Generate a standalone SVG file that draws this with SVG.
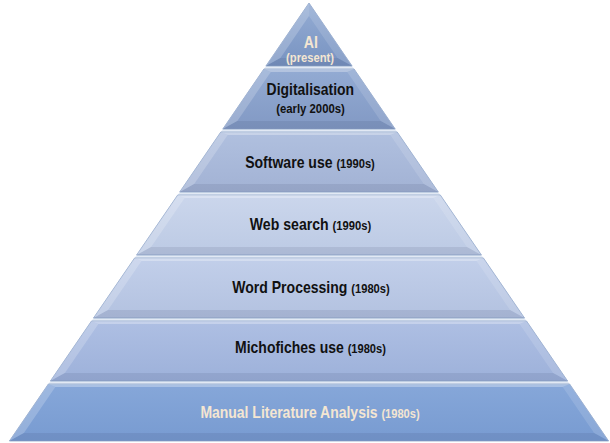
<svg xmlns="http://www.w3.org/2000/svg" width="610" height="443" viewBox="0 0 610 443">
  <defs>
    <style>
      .t { font-family: "Liberation Sans", Arial, sans-serif; font-weight: bold; font-size: 17px; text-anchor: middle; }
      .s { font-size: 13.5px; }
      .k { fill: #111111; }
      .c { fill: #f4e6d2; }
      .base { stroke: #8ea4c9; stroke-width: 0.8; }
      .fl { fill: #ffffff; opacity: 0.2; }
      .fr { fill: #ffffff; opacity: 0.13; }
      .ft { fill: #ffffff; opacity: 0.3; }
      .fb { fill: #2a3a5a; opacity: 0.11; }
    </style>
    <linearGradient id="gAI" x1="0" y1="0" x2="0" y2="1">
      <stop offset="0" stop-color="#95add4"/>
      <stop offset="1" stop-color="#7893c1"/>
    </linearGradient>
    <linearGradient id="gDig" x1="0" y1="0" x2="0" y2="1">
      <stop offset="0" stop-color="#93abd3"/>
      <stop offset="1" stop-color="#8299c4"/>
    </linearGradient>
    <linearGradient id="gSoft" x1="0" y1="0" x2="0" y2="1">
      <stop offset="0" stop-color="#b0c0df"/>
      <stop offset="1" stop-color="#a2b2d4"/>
    </linearGradient>
    <linearGradient id="gWeb" x1="0" y1="0" x2="0" y2="1">
      <stop offset="0" stop-color="#cbd6ec"/>
      <stop offset="1" stop-color="#bccae4"/>
    </linearGradient>
    <linearGradient id="gWord" x1="0" y1="0" x2="0" y2="1">
      <stop offset="0" stop-color="#c2cfea"/>
      <stop offset="1" stop-color="#b3c2e0"/>
    </linearGradient>
    <linearGradient id="gMic" x1="0" y1="0" x2="0" y2="1">
      <stop offset="0" stop-color="#aebfe3"/>
      <stop offset="1" stop-color="#9db1da"/>
    </linearGradient>
    <linearGradient id="gMan" x1="0" y1="0" x2="0" y2="1">
      <stop offset="0" stop-color="#86a7d9"/>
      <stop offset="1" stop-color="#789bd1"/>
    </linearGradient>
  </defs>

  <!-- light backing showing through the separators -->
  <polygon points="309,3 9.4,441 608.6,441" fill="#e2e9f4"/>

  <g id="tier-ai">
    <polygon class="base" points="309,3 352.1,66 265.9,66" fill="url(#gAI)"/>
    <polygon class="fl" points="309,3 309,16 280.4,58 265.9,66"/>
    <polygon class="fr" points="309,3 352.1,66 337.6,58 309,16"/>
    <polygon class="fb" points="265.9,66 280.4,58 337.6,58 352.1,66"/>
    <text class="t c" transform="translate(310.8,48) scale(0.83,1)" font-size="20.5px">AI</text>
    <text class="t c s" transform="translate(310,62) scale(0.83,1)">(present)</text>
  </g>

  <g id="tier-digitalisation">
    <polygon class="base" points="263.9,69 354.1,69 395.2,129 222.8,129" fill="url(#gDig)"/>
    <polygon class="ft" points="263.9,69 354.1,69 347.2,72 270.8,72"/>
    <polygon class="fl" points="263.9,69 270.8,72 237.3,121 222.8,129"/>
    <polygon class="fr" points="354.1,69 395.2,129 380.7,121 347.2,72"/>
    <polygon class="fb" points="222.8,129 237.3,121 380.7,121 395.2,129"/>
    <text class="t k" transform="translate(310.3,95) scale(0.82,1)">Digitalisation</text>
    <text class="t k s" transform="translate(310.5,113) scale(0.84,1)">(early 2000s)</text>
  </g>

  <g id="tier-software">
    <polygon class="base" points="220.8,132 397.2,132 438.3,192 179.7,192" fill="url(#gSoft)"/>
    <polygon class="ft" points="220.8,132 397.2,132 390.3,135 227.7,135"/>
    <polygon class="fl" points="220.8,132 227.7,135 194.2,184 179.7,192"/>
    <polygon class="fr" points="397.2,132 438.3,192 423.8,184 390.3,135"/>
    <polygon class="fb" points="179.7,192 194.2,184 423.8,184 438.3,192"/>
    <text class="t k" transform="translate(310,168.3) scale(0.826,1)">Software use <tspan class="s">(1990s)</tspan></text>
  </g>

  <g id="tier-web-search">
    <polygon class="base" points="177.7,195 440.3,195 481.4,255 136.6,255" fill="url(#gWeb)"/>
    <polygon class="ft" points="177.7,195 440.3,195 433.4,198 184.6,198"/>
    <polygon class="fl" points="177.7,195 184.6,198 151.1,247 136.6,255"/>
    <polygon class="fr" points="440.3,195 481.4,255 466.9,247 433.4,198"/>
    <polygon class="fb" points="136.6,255 151.1,247 466.9,247 481.4,255"/>
    <text class="t k" transform="translate(310.5,230) scale(0.83,1)">Web search <tspan class="s">(1990s)</tspan></text>
  </g>

  <g id="tier-word-processing">
    <polygon class="base" points="134.6,258 483.4,258 524.5,318 93.5,318" fill="url(#gWord)"/>
    <polygon class="ft" points="134.6,258 483.4,258 476.5,261 141.5,261"/>
    <polygon class="fl" points="134.6,258 141.5,261 108,310 93.5,318"/>
    <polygon class="fr" points="483.4,258 524.5,318 510,310 476.5,261"/>
    <polygon class="fb" points="93.5,318 108,310 510,310 524.5,318"/>
    <text class="t k" transform="translate(311,293) scale(0.826,1)">Word Processing <tspan class="s">(1980s)</tspan></text>
  </g>

  <g id="tier-michofiches">
    <polygon class="base" points="91.5,321 526.5,321 567.6,381 50.4,381" fill="url(#gMic)"/>
    <polygon class="ft" points="91.5,321 526.5,321 519.6,324 98.4,324"/>
    <polygon class="fl" points="91.5,321 98.4,324 64.9,373 50.4,381"/>
    <polygon class="fr" points="526.5,321 567.6,381 553.1,373 519.6,324"/>
    <polygon class="fb" points="50.4,381 64.9,373 553.1,373 567.6,381"/>
    <text class="t k" transform="translate(310.5,353.3) scale(0.823,1)">Michofiches use <tspan class="s">(1980s)</tspan></text>
  </g>

  <g id="tier-manual">
    <polygon class="base" points="48.4,384 569.6,384 608.6,441 9.4,441" fill="url(#gMan)"/>
    <polygon class="ft" points="48.4,384 569.6,384 562.7,387 55.3,387"/>
    <polygon class="fl" points="48.4,384 55.3,387 23.9,433 9.4,441"/>
    <polygon class="fr" points="569.6,384 608.6,441 594.1,433 562.7,387"/>
    <polygon class="fb" points="9.4,441 23.9,433 594.1,433 608.6,441"/>
    <text class="t c" transform="translate(310,418.3) scale(0.822,1)">Manual Literature Analysis <tspan class="s">(1980s)</tspan></text>
  </g>
</svg>
